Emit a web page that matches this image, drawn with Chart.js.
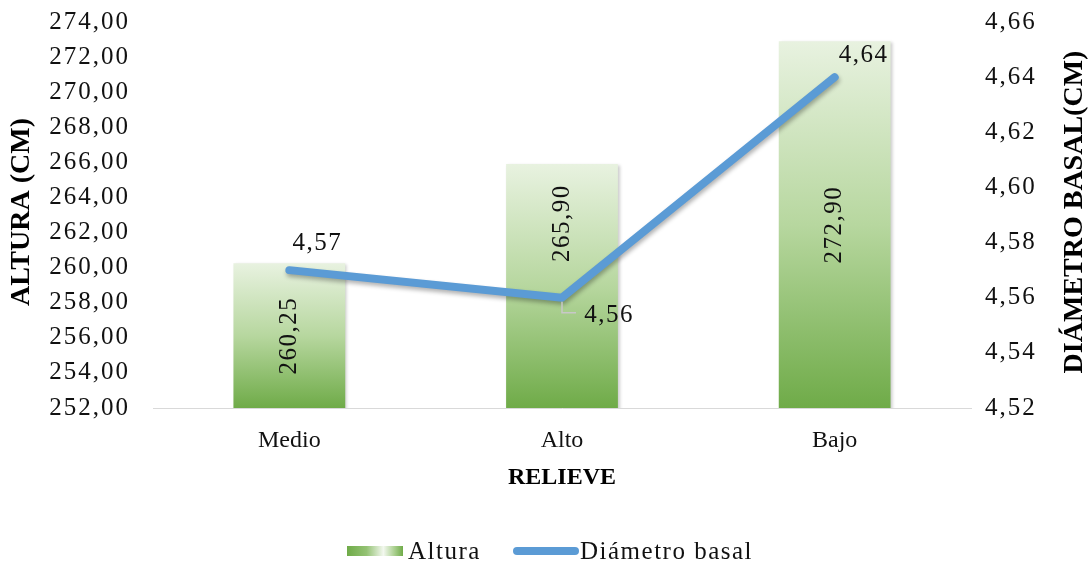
<!DOCTYPE html>
<html>
<head>
<meta charset="utf-8">
<script src="https://cdn.jsdelivr.net/npm/chart.js@4/dist/chart.umd.min.js"></script>
<style>
  html, body { margin: 0; padding: 0; background: #fff; }
</style>
</head>
<body>
<canvas id="relieveChart" width="1091" height="567"></canvas>
<script>
var relieves = ['Medio', 'Alto', 'Bajo'];
var altura = [260.25, 265.90, 272.90];
var diametro = [4.57, 4.56, 4.64];
var ejeAltura = [252, 274, 2];        // min, max, paso
var ejeDiametro = [4.52, 4.66, 0.02]; // min, max, paso

var tituloAltura = 'ALTURA (CM)';
var tituloDiametro = 'DIÁMETRO BASAL(CM)';
var tituloRelieve = 'RELIEVE';
var serie1 = 'Altura';
var serie2 = 'Diámetro basal';

var FUENTE = '"Liberation Serif", "Times New Roman", serif';
var VERDE = '#6fab48';
var AZUL = '#5b9bd5';

// las etiquetas de Alto se suben para no chocar con la linea
var subeEtiquetaBarra = [0, 63, 0];
var etiquetaLinea = [[28, -27], [47, 18], [29, -22]];

function coma(v, d) {
    return v.toFixed(d).replace('.', ',');
}

function degradado(context) {
    var chart = context.chart;
    var area = chart.chartArea;
    if (!area || context.raw === undefined) return VERDE;
    var tope = chart.scales.y.getPixelForValue(context.raw);
    var g = chart.ctx.createLinearGradient(0, tope, 0, area.bottom);
    g.addColorStop(0, '#e8f2e0');
    g.addColorStop(0.5, '#b7d79f');
    g.addColorStop(1, VERDE);
    return g;
}

function sinRelleno(scale) {
    scale.paddingTop = 0;
    scale.paddingBottom = 0;
}

var extras = {
    id: 'extras',
    beforeDraw: function (chart) {
        // numeros de los ejes verticales un poco mas espaciados
        chart.ctx.letterSpacing = '2px';
    },
    beforeDatasetsDraw: function (chart) {
        chart.ctx.letterSpacing = '0px';
    },
    beforeDatasetDraw: function (chart, args) {
        var ctx = chart.ctx;
        ctx.save();
        if (args.index === 0) {
            ctx.shadowColor = 'rgba(0,0,0,0.3)';
            ctx.shadowBlur = 4;
            ctx.shadowOffsetX = 1;
            ctx.shadowOffsetY = 3;
        } else {
            ctx.shadowColor = 'rgba(0,0,0,0.2)';
            ctx.shadowBlur = 3;
            ctx.shadowOffsetX = 2;
            ctx.shadowOffsetY = 1;
        }
    },
    afterDatasetDraw: function (chart) {
        chart.ctx.restore();
    },
    afterDatasetsDraw: function (chart) {
        var ctx = chart.ctx;
        var sx = chart.scales.x, sy = chart.scales.y;
        ctx.save();
        ctx.letterSpacing = '1.5px';
        ctx.fillStyle = '#111';
        ctx.font = '25px ' + FUENTE;
        ctx.textAlign = 'center';
        ctx.textBaseline = 'middle';

        altura.forEach(function (v, i) {
            var x = sx.getPixelForValue(i);
            var tope = sy.getPixelForValue(v);
            var base = sy.getPixelForValue(ejeAltura[0]);
            ctx.save();
            ctx.translate(x, (tope + base) / 2 - subeEtiquetaBarra[i]);
            ctx.rotate(-Math.PI / 2);
            ctx.fillText(coma(v, 2), 0, 0);
            ctx.restore();
        });

        var puntos = chart.getDatasetMeta(0).data;
        puntos.forEach(function (p, i) {
            var o = etiquetaLinea[i];
            ctx.fillText(coma(diametro[i], 2), p.x + o[0], p.y + o[1]);
        });

        // guia de la etiqueta de Alto
        var p = puntos[1];
        ctx.strokeStyle = '#c8c8c8';
        ctx.lineWidth = 1.5;
        ctx.beginPath();
        ctx.moveTo(p.x, p.y + 4);
        ctx.lineTo(p.x, p.y + 15);
        ctx.lineTo(p.x + 14, p.y + 15);
        ctx.stroke();
        ctx.restore();
    },
    afterDraw: function (chart) {
        var ctx = chart.ctx;
        var area = chart.chartArea;
        var medio = (area.top + area.bottom) / 2 - 3;
        ctx.save();
        ctx.letterSpacing = '0px';
        ctx.fillStyle = '#000';
        ctx.font = 'bold 28px ' + FUENTE;
        ctx.textAlign = 'center';
        ctx.textBaseline = 'middle';

        ctx.save();
        ctx.translate(22, medio);
        ctx.rotate(-Math.PI / 2);
        ctx.fillText(tituloAltura, 0, 0);
        ctx.restore();

        ctx.save();
        ctx.translate(1075, medio);
        ctx.rotate(-Math.PI / 2);
        ctx.fillText(tituloDiametro, 0, 0);
        ctx.restore();

        ctx.font = 'bold 24px ' + FUENTE;
        ctx.fillText(tituloRelieve, (area.left + area.right) / 2, area.bottom + 70);

        // leyenda
        var gl = ctx.createLinearGradient(347, 0, 403, 0);
        gl.addColorStop(0, VERDE);
        gl.addColorStop(0.35, '#94c274');
        gl.addColorStop(0.65, '#f3f8ef');
        gl.addColorStop(0.85, '#a9cf8e');
        gl.addColorStop(1, VERDE);
        ctx.fillStyle = gl;
        ctx.fillRect(347, 546, 56, 10);

        ctx.strokeStyle = AZUL;
        ctx.lineWidth = 8;
        ctx.lineCap = 'round';
        ctx.beginPath();
        ctx.moveTo(517, 551);
        ctx.lineTo(575, 551);
        ctx.stroke();

        ctx.letterSpacing = '1.5px';
        ctx.fillStyle = '#111';
        ctx.font = '25px ' + FUENTE;
        ctx.textAlign = 'left';
        ctx.textBaseline = 'alphabetic';
        ctx.fillText(serie1, 408, 559);
        ctx.fillText(serie2, 580, 559);
        ctx.restore();
    }
};

var ctx = document.getElementById('relieveChart').getContext('2d');
var relieveChart = new Chart(ctx, {
    type: 'bar',
    data: {
        labels: relieves,
        datasets: [{
            type: 'line',
            label: serie2,
            data: diametro,
            yAxisID: 'y1',
            borderColor: AZUL,
            borderWidth: 8,
            borderCapStyle: 'round',
            borderJoinStyle: 'round',
            pointRadius: 0,
            tension: 0,
            order: 0
        }, {
            type: 'bar',
            label: serie1,
            data: altura,
            yAxisID: 'y',
            backgroundColor: degradado,
            borderWidth: 0,
            barPercentage: 0.41,
            categoryPercentage: 1,
            order: 1
        }]
    },
    options: {
        responsive: false,
        animation: false,
        devicePixelRatio: 1,
        layout: {
            padding: { top: 22, left: 0, right: 0, bottom: 71 }
        },
        plugins: {
            legend: { display: false },
            tooltip: { enabled: false }
        },
        scales: {
            x: {
                grid: { display: false, drawTicks: false },
                border: { display: true, color: '#d9d9d9', width: 1 },
                ticks: {
                    z: 1,
                    color: '#111',
                    padding: 18,
                    font: { family: FUENTE, size: 24 }
                },
                afterFit: function (scale) { scale.height = 88; }
            },
            y: {
                position: 'left',
                min: ejeAltura[0],
                max: ejeAltura[1],
                grid: { display: false, drawTicks: false },
                border: { display: false },
                ticks: {
                    stepSize: ejeAltura[2],
                    color: '#111',
                    padding: 23,
                    font: { family: FUENTE, size: 25 },
                    callback: function (v) { return coma(v, 2); }
                },
                afterFit: function (scale) {
                    scale.width = 153;
                    sinRelleno(scale);
                }
            },
            y1: {
                position: 'right',
                min: ejeDiametro[0],
                max: ejeDiametro[1],
                grid: { display: false, drawTicks: false },
                border: { display: false },
                ticks: {
                    stepSize: ejeDiametro[2],
                    color: '#111',
                    padding: 14,
                    font: { family: FUENTE, size: 25 },
                    callback: function (v) { return coma(v, 2); }
                },
                afterFit: function (scale) {
                    scale.width = 120;
                    sinRelleno(scale);
                }
            }
        }
    },
    plugins: [extras]
});
</script>
</body>
</html>
